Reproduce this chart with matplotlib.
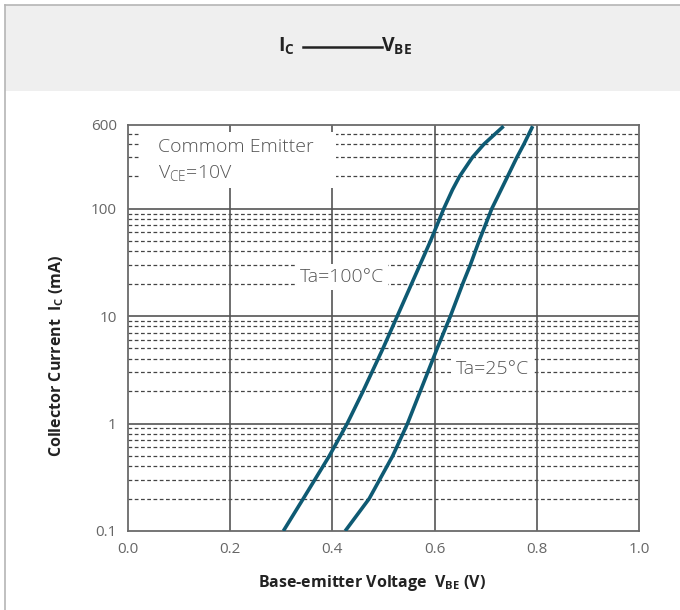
import matplotlib
matplotlib.use("Agg")
import matplotlib.pyplot as plt
from matplotlib.patches import Rectangle

plt.rcParams['font.family'] = ['Open Sans', 'DejaVu Sans']
plt.rcParams['mathtext.default'] = 'regular'

# Data
ic_100 = [0.1, 0.2, 0.5, 1, 2, 5, 10, 20, 50, 100, 150, 200, 300, 400, 585]
vbe_100 = [0.304, 0.343, 0.394, 0.429, 0.460, 0.499, 0.527, 0.555, 0.592, 0.618, 0.635, 0.649, 0.674, 0.697, 0.735]
ic_25 = [0.1, 0.2, 0.5, 1, 2, 5, 10, 20, 30, 50, 100, 200, 300, 400, 585]
vbe_25 = [0.425, 0.472, 0.518, 0.547, 0.572, 0.605, 0.631, 0.655, 0.670, 0.687, 0.712, 0.743, 0.761, 0.775, 0.792]
xticks = [0.0, 0.2, 0.4, 0.6, 0.8, 1.0]
xticklabels = ['0.0', '0.2', '0.4', '0.6', '0.8', '1.0']
yticks = [0.1, 1, 10, 100, 600]
yticklabels = ['0.1', '1', '10', '100', '600']
labels = ['Ta=100°C', 'Ta=25°C']

fig = plt.figure(figsize=(6.8, 6.1), dpi=100)

# Header band and frame
fig.patches.append(Rectangle((5/680, 1 - 91/610), 1, 86/610, transform=fig.transFigure,
                             facecolor='#efefef', edgecolor='none', zorder=0))
fig.lines.append(plt.Line2D([5/680, 5/680], [0, 1 - 5/610], transform=fig.transFigure, color='#b5b5b5', lw=1.2))
fig.lines.append(plt.Line2D([5/680, 1], [1 - 5/610, 1 - 5/610], transform=fig.transFigure, color='#b5b5b5', lw=1.2))

# Title: I_C ——— V_BE
fig.text(295/680, 1 - 46/610, r'I$_{C}$', ha='right', va='center',
         fontsize=14, fontweight='bold', color='#222222')
fig.lines.append(plt.Line2D([303/680, 382/680], [1 - 47/610, 1 - 47/610], transform=fig.transFigure,
                            color='#222222', lw=1.8))
fig.text(381/680, 1 - 46/610, r'V$_{BE}$', ha='left', va='center',
         fontsize=14, fontweight='bold', color='#222222')

ax = fig.add_axes([128/680, 1 - 531/610, (639 - 128)/680, (531 - 125)/610])
ax.set_yscale('log')
ax.set_xlim(0, 1.0)
ax.set_ylim(0.1, 600)

# Grid
for yv in [0.2, 0.3, 0.4, 0.5, 0.6, 0.7, 0.8, 0.9, 2, 3, 4, 5, 6, 7, 8, 9,
           20, 30, 40, 50, 60, 70, 80, 90, 200, 300, 400, 500]:
    ax.axhline(yv, color='#444444', lw=0.9, ls=(0, (3, 2)), zorder=1)
for yv in [1, 10, 100]:
    ax.axhline(yv, color='#555555', lw=1.2, zorder=1.5)
for xv in [0.2, 0.4, 0.6, 0.8]:
    ax.axvline(xv, color='#555555', lw=1.2, zorder=1.5)

for s in ax.spines.values():
    s.set_color('#6a6a6a')
    s.set_linewidth(1.3)

ax.set_xticks(xticks)
ax.set_xticklabels(xticklabels)
ax.set_yticks(yticks)
ax.set_yticklabels(yticklabels)
ax.minorticks_off()
ax.tick_params(length=0, labelsize=11, labelcolor='#666666', pad=8)

line_color = '#0e5a73'
ax.plot(vbe_100, ic_100, color=line_color, lw=2.6, zorder=4, solid_capstyle='butt', solid_joinstyle='round')
ax.plot(vbe_25, ic_25, color=line_color, lw=2.6, zorder=4, solid_capstyle='butt', solid_joinstyle='round')

# Annotation box
ax.add_patch(Rectangle((0.023, 0.845), 0.385, 0.138, transform=ax.transAxes,
                       facecolor='white', edgecolor='none', zorder=2))
ax.text(0.059, 0.945, 'Commom Emitter', transform=ax.transAxes, ha='left', va='center',
        fontsize=14, color='#555555', zorder=3, fontweight='light')
ax.text(0.059, 0.881, r'V$_{CE}$=10V', transform=ax.transAxes, ha='left', va='center',
        fontsize=14, color='#555555', zorder=3, fontweight='light')

ax.text(0.418, 23, labels[0], ha='center', va='center', fontsize=14, color='#555555',
        fontweight='light', zorder=3,
        bbox=dict(facecolor='white', edgecolor='none', boxstyle='square,pad=0.2'))
ax.text(0.714, 3.2, labels[1], ha='center', va='center', fontsize=14, color='#555555',
        fontweight='light', zorder=3,
        bbox=dict(facecolor='white', edgecolor='none', boxstyle='square,pad=0.2'))

fig.text(372/680, 1 - 583/610, r'Base-emitter Voltage  V$_{BE}$ (V)', ha='center', va='center',
         fontsize=11.5, fontweight='bold', color='#222222')
fig.text(57/680, 1 - 356/610, r'Collector Current  I$_{C}$ (mA)', ha='center', va='center',
         rotation=90, fontsize=11.5, fontweight='bold', color='#222222')

fig.savefig('out.png', dpi=100)
